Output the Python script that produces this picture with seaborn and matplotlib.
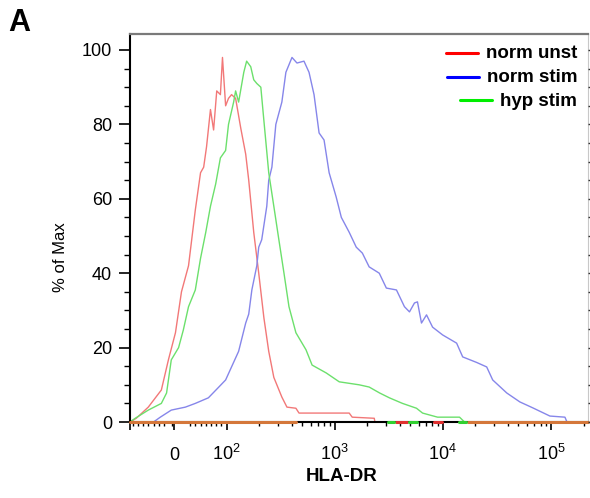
import numpy as np
import pandas as pd
import seaborn as sns
import matplotlib
matplotlib.use("Agg")
import matplotlib.pyplot as plt
from matplotlib.ticker import MultipleLocator, FixedLocator, NullFormatter

# histogram traces (HLA-DR intensity, % of max)
unst_x = [-85, -73, -50, -25, -11.5, 2, 13.5, 27, 40, 50, 56, 61.5, 69, 75, 81, 88, 92, 98, 104, 111,
          121, 135, 150, 160, 178, 198, 221, 245, 273, 324, 361, 437, 467, 1360, 1450, 2320, 2350]
unst_y = [0, 1, 4, 8.6, 16.7, 24, 35, 42, 57, 67, 68.5, 74, 84, 78.5, 89, 88, 98, 85, 87, 88,
          87, 79, 72, 65, 51, 40, 28, 19, 12, 6.7, 4, 3.7, 2.4, 2.4, 1.3, 1, 0]

stim_x = [-85, -40, -27, -6, 21, 40, 65, 85, 98, 129, 150, 160, 171, 190, 198, 211, 235, 245, 262, 285,
          324, 353, 402, 447, 519, 578, 643, 716, 796, 887, 1030, 1150, 1360, 1580, 1800, 2080, 2580, 3000,
          3720, 4410, 4910, 5460, 5820, 6340, 7060, 8030, 9950, 13400, 15250, 20560, 25430, 28900, 39000,
          51500, 67900, 97700, 134600, 140600]
stim_y = [0, 0, 1.3, 3.2, 4, 5, 6.5, 9.4, 11.3, 19, 26.6, 29, 35.5, 42, 47, 49, 58, 65, 68.5, 80,
          86, 94, 98, 96.5, 97, 94, 88, 77.7, 75.8, 67, 60.5, 55, 51, 47, 45.4, 41.7, 40, 36,
          35.5, 31, 29.6, 32, 32.3, 26.6, 28.8, 25.5, 23.4, 21.2, 17.5, 16, 14.8, 11.3, 7.8,
          5.4, 3.8, 1.6, 1.3, 0]

hyp_x = [-85, -75, -50, -25, -15, -6, 8, 17, 27, 40, 50, 60, 69, 79, 88, 98, 104, 116, 121, 129,
         144, 153, 167, 178, 190, 207, 221, 245, 273, 304, 339, 377, 437, 542, 617, 832, 1100, 1680,
         2080, 2600, 3200, 4230, 5700, 6490, 8930, 14260, 15850]
hyp_y = [0, 1, 3.2, 5, 7.8, 16.7, 20, 24.7, 31, 35.5, 44, 51, 58, 64, 71, 73, 80, 86, 89, 86,
         94, 97, 95.5, 92, 91, 90, 81, 67, 58, 49, 40, 31, 24, 19.4, 15.3, 13.2, 10.8, 10,
         9.4, 7.8, 6.5, 5, 3.7, 2.4, 1.3, 1.3, 0]

samples = ["norm unst", "norm stim", "hyp stim"]
line_cols = {"norm unst": "#f27878", "norm stim": "#8686ea", "hyp stim": "#6ce06c"}
legend_cols = {"norm unst": "#ff0000", "norm stim": "#0000ff", "hyp stim": "#00ee00"}

# zero stretches where the overlapping traces show as an orange baseline
base_start = [-85, 17000]
base_end = [437, 220000]
red_dash = [(3700, 4690), (8360, 9910)]
green_dash = [(3100, 3540), (4900, 5800), (14200, 16500)]

xticks = [-85, 0, 100, 1000, 10000, 100000]
xticklabels = ["", "0", r"$\mathregular{10^{2}}$", r"$\mathregular{10^{3}}$",
               r"$\mathregular{10^{4}}$", r"$\mathregular{10^{5}}$"]

df = pd.concat([
    pd.DataFrame({"HLA-DR": unst_x, "pct": unst_y, "sample": "norm unst"}),
    pd.DataFrame({"HLA-DR": stim_x, "pct": stim_y, "sample": "norm stim"}),
    pd.DataFrame({"HLA-DR": hyp_x, "pct": hyp_y, "sample": "hyp stim"}),
])

sns.set_style("white")
plt.rcParams["font.family"] = ["Liberation Sans", "DejaVu Sans"]
plt.rcParams["mathtext.fontset"] = "custom"
plt.rcParams["mathtext.rm"] = "Liberation Sans"
for key in ["text.color", "axes.labelcolor", "xtick.color", "ytick.color"]:
    plt.rcParams[key] = "black"

fig = plt.figure(figsize=(5.9, 4.98), dpi=100)
ax = fig.add_axes([130 / 590, 1 - 422 / 498, 458 / 590, 388 / 498])

sns.lineplot(data=df, x="HLA-DR", y="pct", hue="sample", palette=line_cols, hue_order=samples,
             estimator=None, sort=False, linewidth=1.0, legend=False, ax=ax)

for a, b in zip(base_start, base_end):
    ax.plot([a, b], [0, 0], color="#d4773a", lw=2.2, clip_on=False, zorder=5)
for a, b in red_dash:
    ax.plot([a, b], [0, 0], color="#e03030", lw=2.2, clip_on=False, zorder=5)
for a, b in green_dash:
    ax.plot([a, b], [0, 0], color="#30d030", lw=2.2, clip_on=False, zorder=5)

ax.set_xscale("symlog", linthresh=100, linscale=0.435)
ax.set_xlim(-85, 220000)
ax.set_ylim(0, 104.3)

ax.set_xticks(xticks)
ax.set_xticklabels(xticklabels)
minors = [-80, -70, -60, -50, -40, -30, -20, -5, 30, 40, 50, 60, 70, 80, 90]
for dec in [100, 1000, 10000, 100000]:
    minors += [dec * k for k in range(2, 10) if dec * k < 220000]
ax.xaxis.set_minor_locator(FixedLocator(minors))
ax.xaxis.set_minor_formatter(NullFormatter())
for t in ax.get_xticklabels():
    t.set_va("baseline")

ax.set_yticks(range(0, 101, 20))
ax.yaxis.set_minor_locator(MultipleLocator(5))

ax.tick_params(axis="x", which="major", direction="out", length=6, width=1.2, pad=21,
               labelsize=13, bottom=True, color="black", labelcolor="black")
ax.tick_params(axis="x", which="minor", direction="out", length=3, width=1.0, bottom=True, color="black")
ax.tick_params(axis="y", which="major", direction="out", length=8, width=1.2, pad=5,
               labelsize=13, left=True, color="black", labelcolor="black")
ax.tick_params(axis="y", which="minor", direction="out", length=4, width=1.0, left=True, color="black")

for side in ["left", "bottom"]:
    ax.spines[side].set_color("black")
    ax.spines[side].set_linewidth(1.5)
ax.spines["top"].set_color("#7a7a7a")
ax.spines["top"].set_linewidth(1.6)
ax.spines["right"].set_color("#c8c8c8")
ax.spines["right"].set_linewidth(0.8)

ax2 = ax.twinx()
ax2.set_ylim(0, 104.3)
ax2.set_yticks(np.arange(0, 105, 5))
ax2.tick_params(axis="y", direction="out", length=3, width=1.0, labelright=False, color="#333333")
for s in ax2.spines.values():
    s.set_visible(False)

ax.set_xlabel("HLA-DR", fontsize=13.5, fontweight="bold", color="black")
ax.xaxis.set_label_coords(0.463, -0.1186)
ax.set_ylabel("% of Max", fontsize=12, color="black")
ax.yaxis.set_label_coords(-0.1354, 0.425)

fig.text(8 / 590, 1 - 8 / 498, "A", fontsize=22, fontweight="bold", va="top", ha="left", color="black")

# right-aligned legend drawn by hand, as in the figure
leg_text_y = [0.938, 0.876, 0.814]
leg_line_y = [0.951, 0.889, 0.830]
texts = []
for name, ty in zip(samples, leg_text_y):
    texts.append(ax.text(0.976, ty, name, transform=ax.transAxes, ha="right", va="baseline",
                         fontsize=13.5, fontweight="bold", color="black"))
fig.canvas.draw()
rend = fig.canvas.get_renderer()
inv = ax.transAxes.inverted()
for name, t, ly in zip(samples, texts, leg_line_y):
    x0 = t.get_window_extent(rend).x0
    xa = inv.transform((x0 - 8, 0))[0]
    xb = inv.transform((x0 - 40, 0))[0]
    ax.plot([xb, xa], [ly, ly], transform=ax.transAxes, color=legend_cols[name], lw=2.2, clip_on=False)

fig.savefig("out.png", dpi=100)
